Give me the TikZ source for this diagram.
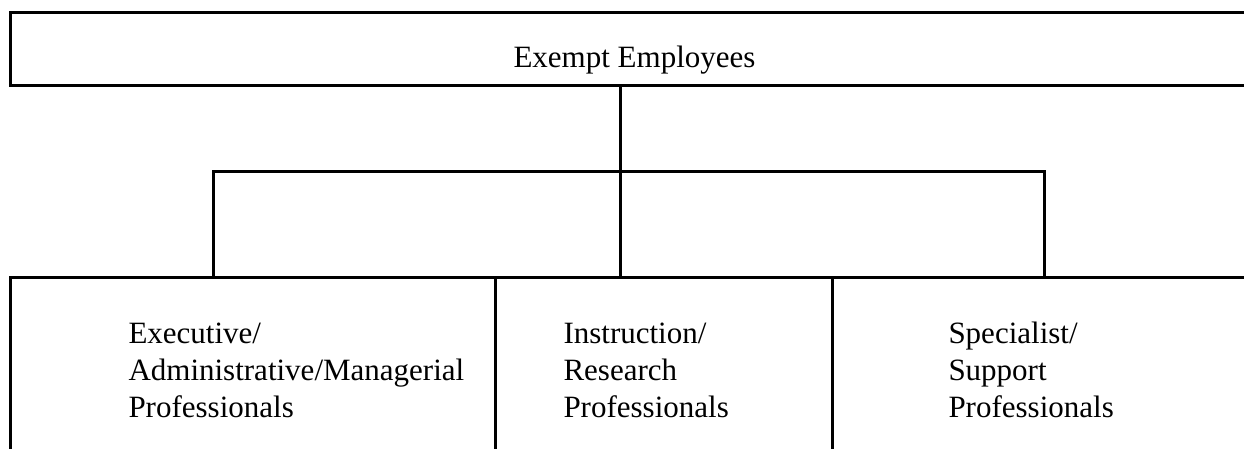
\documentclass[tikz,border=0pt]{standalone}
\usepackage{fontspec}
\setmainfont{Liberation Serif}
\begin{document}
\begin{tikzpicture}[x=0.5pt,y=-0.5pt,line width=1.5pt,
  boxshape/.style={draw,rectangle,inner sep=0pt,outer sep=0pt},
  label/.style={font=\fontsize{15.5pt}{18.5pt}\selectfont,align=left,inner sep=0pt,anchor=base west},
  link/.style={draw,line width=1.5pt}]
\useasboundingbox (0,0) rectangle (1244,449);
\clip (0,0) rectangle (1244,449);
% top box (right side runs off the page)
\node[boxshape,minimum width=625pt,minimum height=36.5pt] (top) at (635,49.5) {};
\node[label] (toptext) at (512,68) {Exempt Employees};
% bottom boxes (bottom runs off the page)
\node[boxshape,minimum width=242.5pt,minimum height=96pt] (b1) at (252.5,374) {};
\node[boxshape,minimum width=168.5pt,minimum height=96pt] (b2) at (663.5,374) {};
\node[boxshape,minimum width=214pt,minimum height=96pt] (b3) at (1046,374) {};
\node[label] (t1) at (127,417) {Executive/\\Administrative/Managerial\\Professionals};
\node[label] (t2) at (562,417) {Instruction/\\Research\\Professionals};
\node[label] (t3) at (947,417) {Specialist/\\Support\\Professionals};
% connectors
\coordinate (hub) at (620,172);
\coordinate (bl) at (213,172);
\coordinate (br) at (1044,172);
\draw[link] (top.south -| hub) -- (hub) -- (hub |- b2.north);
\draw[link] (bl |- b1.north) -- (bl) -- (br) -- (br |- b3.north);
\end{tikzpicture}
\end{document}
